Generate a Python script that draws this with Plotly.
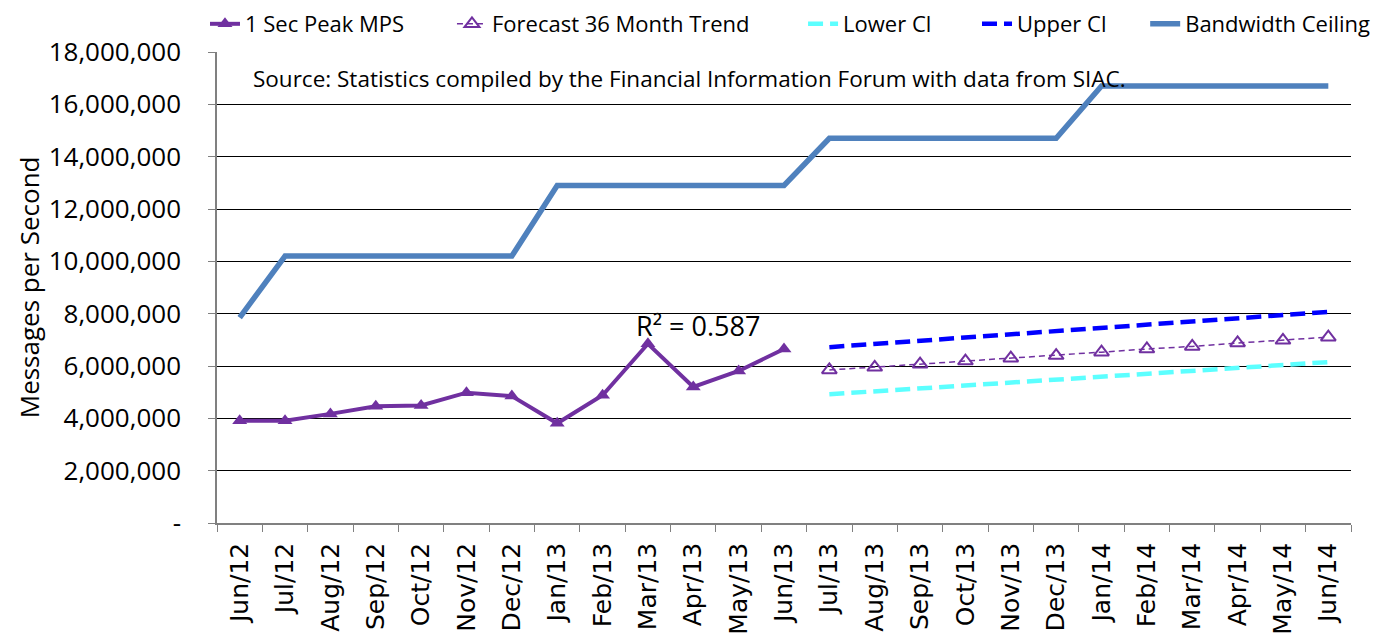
import plotly.graph_objects as go

months = ['Jun/12', 'Jul/12', 'Aug/12', 'Sep/12', 'Oct/12', 'Nov/12', 'Dec/12',
          'Jan/13', 'Feb/13', 'Mar/13', 'Apr/13', 'May/13', 'Jun/13',
          'Jul/13', 'Aug/13', 'Sep/13', 'Oct/13', 'Nov/13', 'Dec/13',
          'Jan/14', 'Feb/14', 'Mar/14', 'Apr/14', 'May/14', 'Jun/14']

# фактические пиковые значения (Jun/12 - Jun/13)
peak_mps = [3910000, 3910000, 4170000, 4460000, 4490000, 4980000, 4850000,
            3810000, 4880000, 6850000, 5200000, 5810000, 6650000]

# прогноз (Jul/13 - Jun/14)
forecast = [5850000, 5950000, 6070000, 6190000, 6300000, 6400000,
            6530000, 6650000, 6750000, 6880000, 6980000, 7100000]
lower_ci = [4920000, 5030000, 5140000, 5250000, 5370000, 5480000,
            5590000, 5700000, 5810000, 5920000, 6030000, 6150000]
upper_ci = [6720000, 6840000, 6960000, 7080000, 7200000, 7330000,
            7450000, 7570000, 7700000, 7820000, 7950000, 8070000]

bandwidth = [7850000,
             10200000, 10200000, 10200000, 10200000, 10200000, 10200000,
             12900000, 12900000, 12900000, 12900000, 12900000, 12900000,
             14700000, 14700000, 14700000, 14700000, 14700000, 14700000,
             16700000, 16700000, 16700000, 16700000, 16700000, 16700000]

y_ticks = [0, 2000000, 4000000, 6000000, 8000000, 10000000,
           12000000, 14000000, 16000000, 18000000]
y_labels = ['-', '2,000,000', '4,000,000', '6,000,000', '8,000,000', '10,000,000',
            '12,000,000', '14,000,000', '16,000,000', '18,000,000']

hist_months = months[:len(peak_mps)]
fc_months = months[len(peak_mps):]

FONT = 'Open Sans'

fig = go.Figure()

fig.add_trace(go.Scatter(
    x=hist_months, y=peak_mps, name='1 Sec Peak MPS',
    mode='lines+markers', legend='legend',
    line=dict(color='#7030A0', width=4),
    marker=dict(symbol='triangle-up', size=13, color='#7030A0')
))
fig.add_trace(go.Scatter(
    x=fc_months, y=forecast, name='Forecast 36 Month Trend',
    mode='lines+markers', legend='legend2',
    line=dict(color='#7030A0', width=1.5, dash='6px,4px'),
    marker=dict(symbol='triangle-up-open', size=13, color='#7030A0',
                line=dict(width=2, color='#7030A0'))
))
fig.add_trace(go.Scatter(
    x=fc_months, y=lower_ci, name='Lower Cl',
    mode='lines', legend='legend3',
    line=dict(color='#5CFFFF', width=4.5, dash='15px,7px')
))
fig.add_trace(go.Scatter(
    x=fc_months, y=upper_ci, name='Upper Cl',
    mode='lines', legend='legend4',
    line=dict(color='#0000FF', width=4.5, dash='15px,7px')
))
fig.add_trace(go.Scatter(
    x=months, y=bandwidth, name='Bandwidth Ceiling',
    mode='lines', legend='legend5',
    line=dict(color='#4F81BD', width=5.5)
))

fig.add_annotation(
    x=0.03, y=17000000, xref='paper', yref='y',
    text='Source: Statistics compiled by the Financial Information Forum with data from SIAC.',
    showarrow=False, xanchor='left', yanchor='middle',
    font=dict(family=FONT, size=22.5, color='black')
)
fig.add_annotation(
    x='Mar/13', y=7530000, xref='x', yref='y',
    text='R² = 0.587', showarrow=False, xanchor='left', yanchor='middle', xshift=-14,
    font=dict(family=FONT, size=27, color='black')
)
# подпись оси Y
fig.add_annotation(
    x=-0.166, y=0.5, xref='paper', yref='paper',
    text='Messages per Second', textangle=-90, showarrow=False,
    xanchor='center', yanchor='middle',
    font=dict(family=FONT, size=26, color='black')
)

# отдельная легенда на каждую серию, чтобы расставить их как в оригинале
leg_x = [-0.0106, 0.2072, 0.5168, 0.6702, 0.8185]
leg_common = dict(orientation='h', xanchor='left', y=1.104, yanchor='top',
                  font=dict(family=FONT, size=22), bgcolor='rgba(0,0,0,0)')

fig.update_layout(
    width=1378, height=636,
    paper_bgcolor='white', plot_bgcolor='white',
    margin=dict(l=209, r=35, t=44, b=121, autoexpand=False),
    font=dict(family=FONT, color='black'),
    showlegend=True,
    legend=dict(x=leg_x[0], **leg_common),
    legend2=dict(x=leg_x[1], **leg_common),
    legend3=dict(x=leg_x[2], **leg_common),
    legend4=dict(x=leg_x[3], **leg_common),
    legend5=dict(x=leg_x[4], **leg_common),
)

fig.update_xaxes(
    type='category', categoryorder='array', categoryarray=months,
    range=[-0.5, len(months) - 0.5],
    tickangle=-90, tickson='boundaries', ticks='outside', ticklen=7,
    tickcolor='#808080', showline=True, linecolor='#808080', linewidth=1.5,
    showgrid=False, tickfont=dict(family='DejaVu Sans', size=25),
    ticklabelstandoff=8, automargin=False
)
fig.update_yaxes(
    range=[0, 18000000], tickvals=y_ticks, ticktext=y_labels,
    ticks='outside', ticklen=7, tickcolor='#808080',
    showline=True, linecolor='#808080', linewidth=1.5,
    showgrid=True, gridcolor='black', gridwidth=1, zeroline=False,
    tickfont=dict(family=FONT, size=26),
    ticklabelstandoff=22, automargin=False
)

fig.write_html("out.html")
